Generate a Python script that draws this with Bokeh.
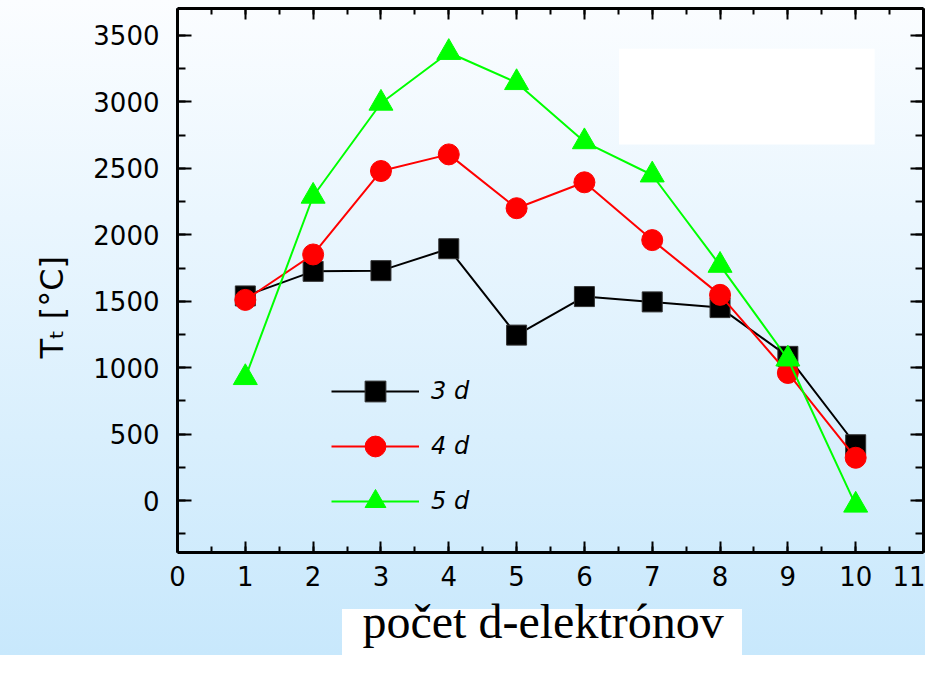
from bokeh.plotting import figure
from bokeh.models import (FixedTicker, LinearAxis, BoxAnnotation, Range1d,
                          CustomJSTickFormatter, Legend, Title)
from bokeh.embed import file_html
from bokeh.resources import INLINE

# ---- data ----
electrons = [1, 2, 3, 4, 5, 6, 7, 8, 9, 10]
series_3d = [1540, 1725, 1730, 1895, 1245, 1535, 1495, 1452, 1085, 420]
series_4d = [1510, 1852, 2480, 2605, 2200, 2395, 1960, 1548, 960, 322]
series_5d = [925, 2290, 2990, 3372, 3145, 2700, 2450, 1770, 1065, -35]
series_names = ["3 d", "4 d", "5 d"]
x_ticks = list(range(0, 12))
y_ticks = list(range(0, 4000, 500))
x_label = "počet d-elektrónov"
y_label = "Tₜ [°C]"

FONT = "DejaVu Sans"

p = figure(width=925, height=658, output_backend="svg", toolbar_location=None,
           x_range=Range1d(0, 11), y_range=Range1d(-391, 3703),
           min_border_left=177, min_border_right=2, min_border_top=8,
           min_border_bottom=106)
p.styles = {
    "background": ("linear-gradient(#ffffff, #ffffff) 342px 609px / 400px 80px no-repeat, "
                   "linear-gradient(to bottom, #fbfdff 0px, #c8e8fc 655px, #ffffff 655px, #ffffff 100%)")
}
p.background_fill_alpha = 0
p.border_fill_alpha = 0
p.outline_line_color = None
p.grid.visible = False

x_ticker = FixedTicker(ticks=x_ticks, minor_ticks=[i * 0.5 for i in range(0, 23)])
y_ticker = FixedTicker(ticks=y_ticks, minor_ticks=list(range(-250, 3751, 250)))


def style_axis(ax, major_in, minor_in):
    ax.axis_line_width = 3
    ax.axis_line_color = "black"
    ax.major_tick_in = major_in
    ax.major_tick_out = 0
    ax.minor_tick_in = minor_in
    ax.minor_tick_out = 0
    ax.major_tick_line_width = 2
    ax.minor_tick_line_width = 2
    ax.major_tick_line_color = "black"
    ax.minor_tick_line_color = "black"
    ax.major_label_text_font = FONT
    ax.major_label_text_font_size = "26px"
    ax.major_label_text_color = "black"


xa = p.xaxis[0]
xa.ticker = x_ticker
style_axis(xa, 11, 6)
xa.major_label_standoff = 13

ya = p.yaxis[0]
ya.ticker = y_ticker
style_axis(ya, 14, 8)
ya.major_label_standoff = 18

blank = CustomJSTickFormatter(code="return ''")
top = LinearAxis(ticker=x_ticker, formatter=blank)
style_axis(top, 11, 6)
top.major_label_text_font_size = "1px"
top.major_label_standoff = 0
p.add_layout(top, "above")

right = LinearAxis(ticker=y_ticker, formatter=blank)
style_axis(right, 13, 8)
right.major_label_text_font_size = "1px"
right.major_label_standoff = 0
p.add_layout(right, "right")

# white cover box (top right)
p.add_layout(BoxAnnotation(left=6.51, right=10.28, bottom=2679, top=3400,
                           fill_color="white", fill_alpha=1, line_color=None))

colors = ["black", "#ff0000", "#00ff00"]
markers = ["square", "circle", "triangle"]
sizes = [20, 21, 24]
items = []
for name, vals, col, mk, sz in zip(series_names, [series_3d, series_4d, series_5d],
                                   colors, markers, sizes):
    r1 = p.line(electrons, vals, line_color=col, line_width=2)
    r2 = p.scatter(electrons, vals, marker=mk, size=sz, fill_color=col,
                   line_color=("#333333" if col == "black" else col), line_width=1)
    items.append((name, [r1, r2]))

legend = Legend(items=items, location=(154, 25), orientation="vertical",
                glyph_width=88, glyph_height=52, label_height=52, spacing=3,
                label_standoff=12, padding=0, margin=0,
                background_fill_alpha=0, border_line_alpha=0,
                label_text_font=FONT, label_text_font_style="italic",
                label_text_font_size="24px", label_text_color="black")
p.add_layout(legend, "center")

# axis titles
p.add_layout(Title(text=y_label, align="left", offset=194, standoff=40,
                   text_font=FONT, text_font_size="32px", text_font_style="normal",
                   text_color="black"), "left")
p.add_layout(Title(text=x_label, align="left", offset=185, standoff=8,
                   text_font="Liberation Serif", text_font_size="48px",
                   text_font_style="normal", text_color="black"), "below")

open("out.html", "w").write(file_html(p, INLINE))
